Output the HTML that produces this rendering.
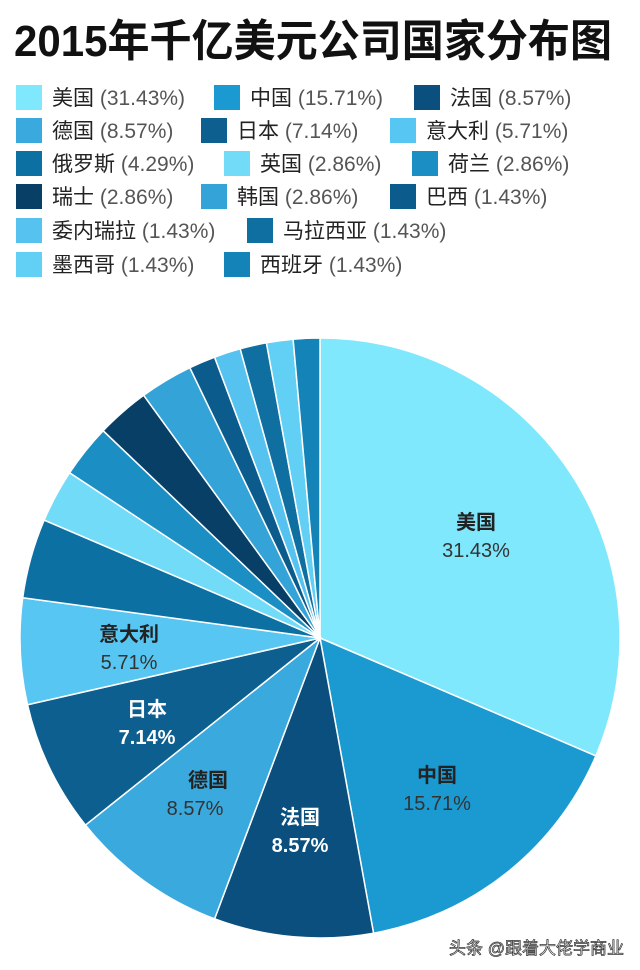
<!DOCTYPE html>
<html><head><meta charset="utf-8"><style>
html,body{margin:0;padding:0;background:#fff;}
svg{display:block;}
text{font-family:"Liberation Sans","Noto Sans CJK SC",sans-serif;}
</style></head><body>
<svg id="s" width="640" height="970" viewBox="0 0 640 970" xmlns="http://www.w3.org/2000/svg">
<rect width="640" height="970" fill="#fff"/>
<text x="14" y="56" font-size="44" font-weight="bold" fill="#111" textLength="598" lengthAdjust="spacingAndGlyphs">2015年千亿美元公司国家分布图</text>
<g id="legend" font-size="21" fill="#333"></g>
<g id="pie"></g>
<g font-size="20" text-anchor="middle">
<text x="476" y="529" font-weight="bold" fill="#222">美国</text>
<text x="476" y="557" fill="#333">31.43%</text>
<text x="437" y="782" font-weight="bold" fill="#222">中国</text>
<text x="437" y="810" fill="#333">15.71%</text>
<text x="300" y="824" font-weight="bold" fill="#fff">法国</text>
<text x="300" y="852" font-weight="bold" fill="#fff">8.57%</text>
<text x="208" y="787" font-weight="bold" fill="#222">德国</text>
<text x="195" y="815" fill="#333">8.57%</text>
<text x="147" y="716" font-weight="bold" fill="#fff">日本</text>
<text x="147" y="744" font-weight="bold" fill="#fff">7.14%</text>
<text x="129" y="641" font-weight="bold" fill="#222">意大利</text>
<text x="129" y="669" fill="#333">5.71%</text>
</g>
<text x="624" y="954" font-size="17" text-anchor="end" fill="#f4f4f4" stroke="#333" stroke-width="0.7">头条 @跟着大佬学商业</text>
</svg>
<script>
var data=[["美国",22,"#7fe8fc"],["中国",11,"#1a9ad0"],["法国",6,"#0a4f7e"],["德国",6,"#39a9de"],["日本",5,"#0c5f8f"],["意大利",4,"#57c6f2"],["俄罗斯",3,"#0d70a3"],["英国",2,"#72dbf7"],["荷兰",2,"#1b8fc4"],["瑞士",2,"#073f66"],["韩国",2,"#33a3d8"],["巴西",1,"#0b5c8c"],["委内瑞拉",1,"#55c2ef"],["马拉西亚",1,"#0e6fa0"],["墨西哥",1,"#62d0f5"],["西班牙",1,"#1383b8"]];
var ns="http://www.w3.org/2000/svg",cx=320,cy=638,r=300,a=0,pie=document.getElementById("pie");
data.forEach(function(d){var a2=a+d[1]/70*2*Math.PI;
var x1=cx+r*Math.sin(a),y1=cy-r*Math.cos(a),x2=cx+r*Math.sin(a2),y2=cy-r*Math.cos(a2);
var p=document.createElementNS(ns,"path");
p.setAttribute("d","M"+cx+","+cy+"L"+x1+","+y1+"A"+r+","+r+" 0 "+(a2-a>Math.PI?1:0)+" 1 "+x2+","+y2+"Z");
p.setAttribute("fill",d[2]);p.setAttribute("stroke","#fff");p.setAttribute("stroke-width","1.5");
pie.appendChild(p);a=a2;});
var pos=[[16,85],[214,85],[414,85],[16,118],[201,118],[390,118],[16,151],[224,151],[412,151],[16,184],[201,184],[390,184],[16,218],[247,218],[16,252],[224,252]];
var pct=["31.43","15.71","8.57","8.57","7.14","5.71","4.29","2.86","2.86","2.86","2.86","1.43","1.43","1.43","1.43","1.43"];
var lg=document.getElementById("legend");
data.forEach(function(d,i){var x=pos[i][0],y=pos[i][1];
var b=document.createElementNS(ns,"rect");b.setAttribute("x",x);b.setAttribute("y",y);b.setAttribute("width",26);b.setAttribute("height",25);b.setAttribute("fill",d[2]);lg.appendChild(b);
var t=document.createElementNS(ns,"text");t.setAttribute("x",x+36);t.setAttribute("y",y+20);
var s=document.createElementNS(ns,"tspan");s.setAttribute("fill","#222");s.textContent=d[0];t.appendChild(s);
var s2=document.createElementNS(ns,"tspan");s2.setAttribute("fill","#555");s2.textContent=" ("+pct[i]+"%)";t.appendChild(s2);
lg.appendChild(t);});
</script>
</body></html>
